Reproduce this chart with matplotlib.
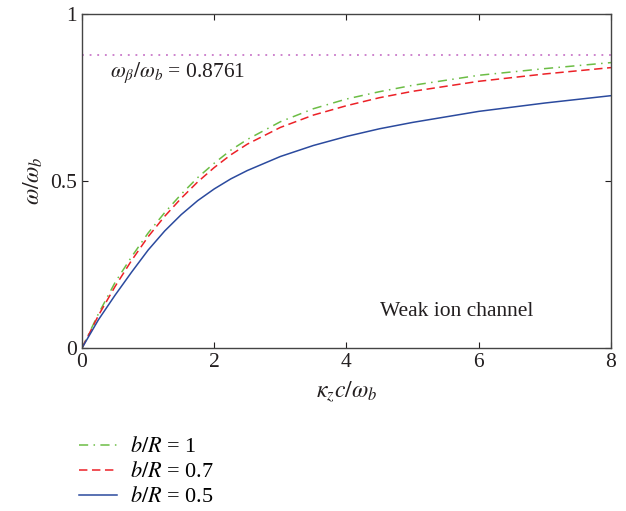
import numpy as np
import matplotlib
matplotlib.use('Agg')
import matplotlib.pyplot as plt

plt.rcParams['font.family'] = ['Liberation Serif', 'DejaVu Serif']
plt.rcParams['mathtext.fontset'] = 'stix'

# Dispersion curves: normalised wave number vs normalised frequency
kz = [0, 0.25, 0.5, 0.75, 1.0, 1.25, 1.5, 1.75, 2.0, 2.25, 2.5, 3.0, 3.5, 4.0, 4.5, 5.0, 6.0, 7.0, 8.0]
omega_b10 = [0, 0.103, 0.196, 0.273, 0.344, 0.405, 0.460, 0.510, 0.553, 0.592, 0.624, 0.677, 0.716, 0.745, 0.767, 0.786, 0.816, 0.836, 0.854]
omega_b07 = [0, 0.098, 0.184, 0.262, 0.333, 0.394, 0.448, 0.497, 0.540, 0.578, 0.610, 0.660, 0.697, 0.725, 0.749, 0.768, 0.798, 0.820, 0.839]
omega_b05 = [0, 0.085, 0.158, 0.227, 0.293, 0.350, 0.399, 0.441, 0.476, 0.506, 0.531, 0.573, 0.606, 0.633, 0.656, 0.675, 0.708, 0.733, 0.755]
omega_beta = 0.8761

fig = plt.figure(figsize=(6.26, 5.11), dpi=100)
ax = fig.add_axes([0.131, 0.319, 0.845, 0.654])

ax.axhline(omega_beta, color='#c060c0', linestyle=(0, (1.2, 3.8)), linewidth=1.1)
ax.plot(kz, omega_b10, linestyle=(0, (6, 3.5, 1, 3.5)), color='#6cbd45', linewidth=1.1, label='$b/R$ = 1')
ax.plot(kz, omega_b07, linestyle=(0, (5.5, 3)), color='#ec2127', linewidth=1.1, label='$b/R$ = 0.7')
ax.plot(kz, omega_b05, linestyle='-', color='#2b4a9e', linewidth=1.1, label='$b/R$ = 0.5')

ax.text(0.42, 0.823, r'$\omega_\beta/\omega_b$ = 0.8761', fontsize=15.5, va='center', ha='left', color='#231f20')
ax.text(4.5, 0.108, 'Weak ion channel', fontsize=15.5, va='center', ha='left', color='#231f20')

ax.set_xlim(0, 8)
ax.set_ylim(0, 1)
ax.set_xticks([0, 2, 4, 6, 8])
ax.set_yticks([0, 0.5, 1])
ax.set_yticklabels(['0', '0.5', '1'])
ax.tick_params(direction='in', top=True, right=True, length=4, labelsize=15.5, colors='#231f20')
for s in ax.spines.values():
    s.set_color('#444444')
    s.set_linewidth(1.0)

ax.set_xlabel(r'$\kappa_z c/\omega_b$', fontsize=17, color='#231f20', labelpad=6)
ax.set_ylabel(r'$\omega/\omega_b$', fontsize=17, color='#231f20', labelpad=4)

fig.legend(loc='upper left', bbox_to_anchor=(0.126, 0.145), frameon=False, fontsize=16,
           handlelength=1.7, handletextpad=0.6, labelspacing=0.2, borderaxespad=0, borderpad=0)

fig.savefig('out.png', dpi=100)
